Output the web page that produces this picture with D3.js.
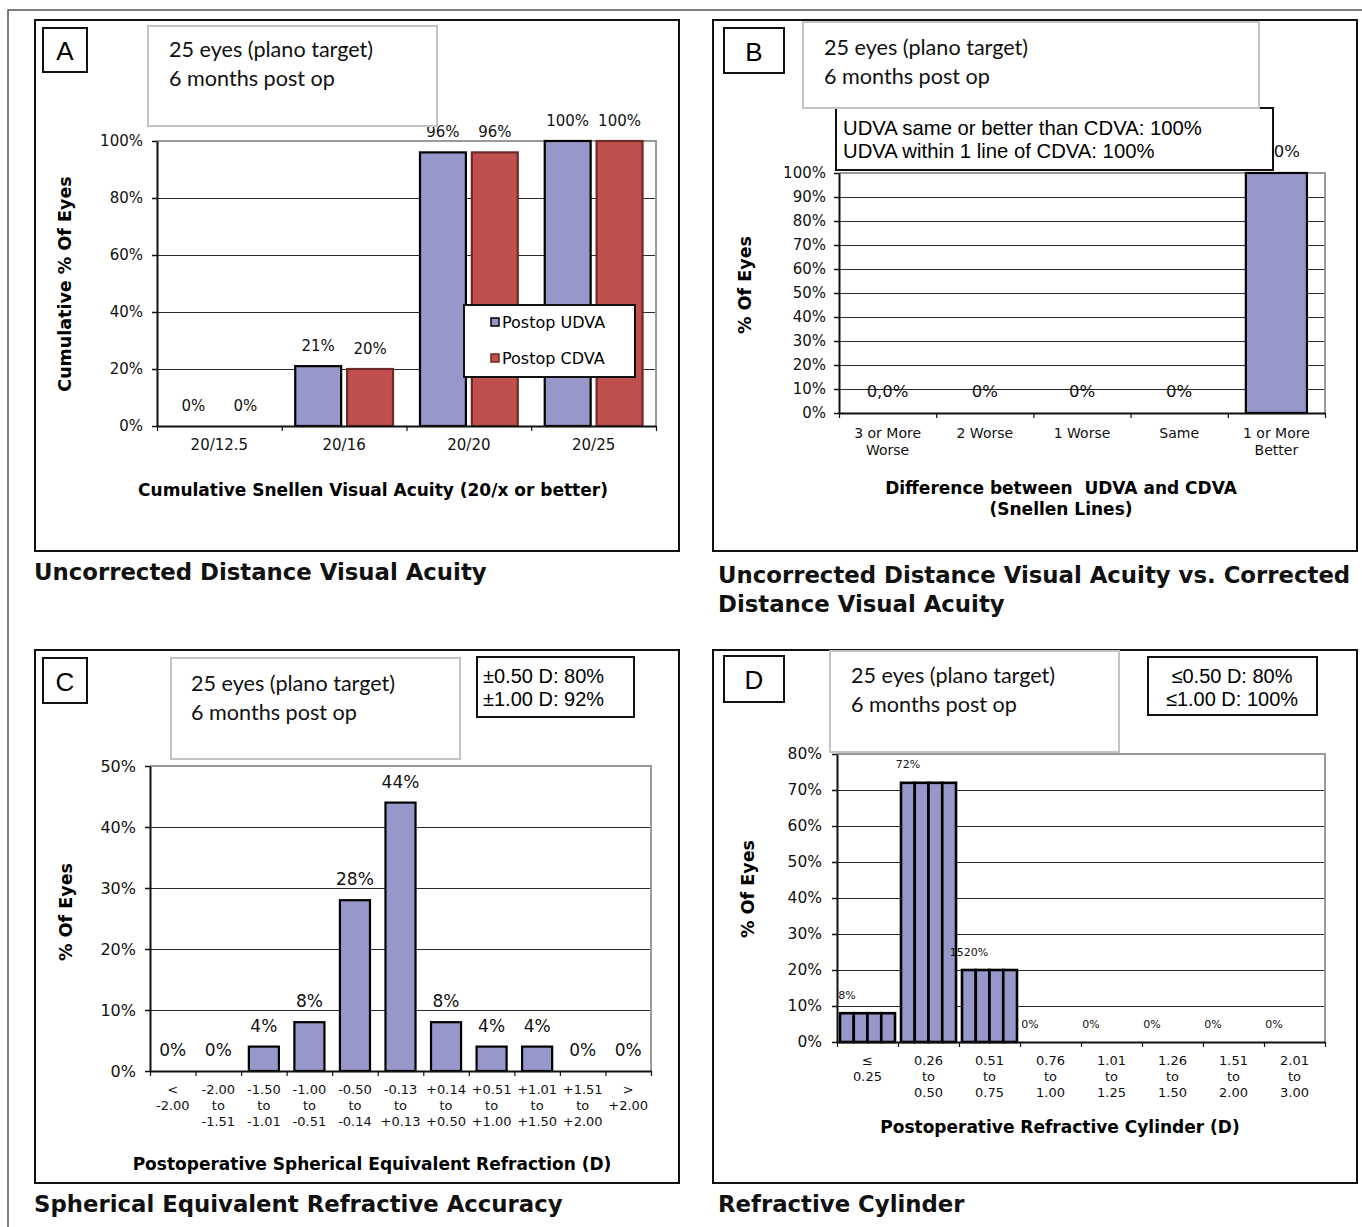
<!DOCTYPE html>
<html><head><meta charset="utf-8">
<script src="https://cdn.jsdelivr.net/npm/d3@7"></script>
<style>body{margin:0;background:#fff} svg{display:block}</style>
</head><body>
<svg id="c" width="1362" height="1227"></svg>
<script>
// ---------- DATA ----------
const noteLines = ["25 eyes (plano target)", "6 months post op"];

const aCategories = ["20/12.5", "20/16", "20/20", "20/25"];
const aUDVA = [0, 21, 96, 100];
const aCDVA = [0, 20, 96, 100];
const aSeriesNames = ["Postop UDVA", "Postop CDVA"];
const aTicks = [0, 20, 40, 60, 80, 100];

const bCategories = ["3 or More\nWorse", "2 Worse", "1 Worse", "Same", "1 or More\nBetter"];
const bValues = [0, 0, 0, 0, 100];
const bLabels = ["0,0%", "0%", "0%", "0%", "100%"];
const bTicks = [0, 10, 20, 30, 40, 50, 60, 70, 80, 90, 100];
const bStats = ["UDVA same or better than CDVA: 100%", "UDVA within 1 line of CDVA: 100%"];

const cCategories = ["<\n-2.00", "-2.00\nto\n-1.51", "-1.50\nto\n-1.01", "-1.00\nto\n-0.51", "-0.50\nto\n-0.14",
  "-0.13\nto\n+0.13", "+0.14\nto\n+0.50", "+0.51\nto\n+1.00", "+1.01\nto\n+1.50", "+1.51\nto\n+2.00", ">\n+2.00"];
const cValues = [0, 0, 4, 8, 28, 44, 8, 4, 4, 0, 0];
const cTicks = [0, 10, 20, 30, 40, 50];
const cStats = ["±0.50 D: 80%", "±1.00 D: 92%"];

const dCategories = ["≤\n0.25", "0.26\nto\n0.50", "0.51\nto\n0.75", "0.76\nto\n1.00", "1.01\nto\n1.25",
  "1.26\nto\n1.50", "1.51\nto\n2.00", "2.01\nto\n3.00"];
const dSeriesNames = ["S1", "S2", "S3", "S4"];
const dValues = [8, 72, 20, 0, 0, 0, 0, 0];
const dLabels = ["8%", "72%", "1520%", "0%", "0%", "0%", "0%", "0%"];
const dTicks = [0, 10, 20, 30, 40, 50, 60, 70, 80];
const dStats = ["≤0.50 D: 80%", "≤1.00 D: 100%"];

// ---------- STYLE ----------
const FONT = "'DejaVu Sans', Verdana, sans-serif";
const NOTEFONT = "Lato, 'Open Sans', sans-serif";
const ARIAL = "'Liberation Sans', Arial, sans-serif";
const PURPLE = "#9797CA", RED = "#C0504D", REDSTROKE = "#6e2a28";

const svg = d3.select("#c");
svg.append("path").attr("d", "M8,1227 V10 H1362").attr("fill", "none").attr("stroke", "#555").attr("stroke-width", 1.5);

function rect(g, r, stroke, sw, fill) {
  return g.append("rect").attr("x", r[0]).attr("y", r[1]).attr("width", r[2]).attr("height", r[3])
    .attr("fill", fill || "none").attr("stroke", stroke).attr("stroke-width", sw);
}

function drawPanel(o) {
  const g = svg.append("g");
  rect(g, o.frame, "#111", 2);
  const [px, py, pw, ph] = o.plot;
  const n = o.categories.length;
  const x = d3.scaleBand().domain(d3.range(n)).range([px, px + pw]);
  const xb = d3.scaleLinear().domain([0, n]).range([px, px + pw]);
  const y = d3.scaleLinear().domain([0, o.ymax]).range([py + ph, py]);
  const inner = d3.scaleBand().domain(o.series.map(s => s.name)).range([0, x.bandwidth()])
    .paddingInner(o.padIn).paddingOuter(o.padOut);

  // gridlines
  g.append("g").selectAll("line").data(o.ticks.filter(t => t > 0)).join("line")
    .attr("x1", px).attr("x2", px + pw)
    .attr("y1", d => Math.round(y(d)) + 0.5).attr("y2", d => Math.round(y(d)) + 0.5)
    .attr("stroke", "#2a2a2a").attr("stroke-width", 1.1);
  // plot border (top/right)
  g.append("path").attr("d", `M${px},${py} H${px + pw} V${py + ph}`)
    .attr("fill", "none").attr("stroke", "#9a9a9a").attr("stroke-width", 2);

  // bars
  o.series.forEach(s => {
    g.append("g").selectAll("rect").data(s.values).join("rect")
      .attr("x", (d, i) => x(i) + inner(s.name)).attr("width", inner.bandwidth())
      .attr("y", d => y(d)).attr("height", d => y(0) - y(d))
      .attr("fill", s.fill).attr("stroke", s.stroke).attr("stroke-width", o.barStroke)
      .attr("display", d => d > 0 ? null : "none");
  });

  // y axis
  const ya = g.append("g").attr("transform", `translate(${px},0)`)
    .call(d3.axisLeft(y).tickValues(o.ticks).tickFormat(d => d + "%").tickSize(5).tickSizeOuter(0).tickPadding(o.yPad));
  ya.selectAll("text").attr("font-family", FONT).attr("font-size", o.yTickSize).attr("fill", "#111");
  ya.selectAll("line").attr("stroke", "#111").attr("stroke-width", 1.5);
  ya.select(".domain").attr("stroke", "#111").attr("stroke-width", 2);

  // x axis boundary ticks
  const xa = g.append("g").attr("transform", `translate(0,${py + ph})`)
    .call(d3.axisBottom(xb).tickValues(d3.range(n + 1)).tickFormat("").tickSize(5).tickSizeOuter(0));
  xa.selectAll("line").attr("stroke", "#111").attr("stroke-width", 1.2);
  xa.select(".domain").attr("stroke", "#111").attr("stroke-width", 2);

  // x labels
  const xl = g.append("g").attr("transform", `translate(0,${py + ph})`)
    .call(d3.axisBottom(x).tickFormat(() => "").tickSize(0));
  xl.select(".domain").remove();
  xl.selectAll(".tick").each(function (i) {
    const t = d3.select(this).select("text").attr("dy", null).attr("y", null)
      .attr("font-family", FONT).attr("font-size", o.xTickSize).attr("fill", "#111")
      .attr("dominant-baseline", "central");
    o.categories[i].split("\n").forEach((ln, k) =>
      t.append("tspan").attr("x", 0).attr("y", o.xLabelY + k * o.xLineH).text(ln));
  });

  // data labels
  o.series.forEach(s => {
    if (!s.labels) return;
    g.append("g").selectAll("text").data(s.values).join("text")
      .attr("x", (d, i) => x(i) + inner(s.name) + inner.bandwidth() / 2 + (o.labelDx || 0))
      .attr("y", d => y(d) - o.labelGap)
      .attr("text-anchor", "middle").attr("dominant-baseline", "central")
      .attr("font-family", FONT).attr("font-size", o.labelSize).attr("fill", "#111")
      .text((d, i) => s.labels[i]);
  });

  // axis titles
  const yt = o.yTitle;
  g.append("text").attr("transform", `translate(${yt.x},${yt.y}) rotate(-90)`)
    .attr("text-anchor", "middle").attr("dominant-baseline", "central")
    .attr("font-family", FONT).attr("font-weight", "bold").attr("font-size", yt.size).text(yt.text);
  o.xTitle.lines.forEach((ln, k) => g.append("text")
    .attr("x", o.xTitle.x).attr("y", o.xTitle.y + k * o.xTitle.lh)
    .attr("text-anchor", "middle").attr("dominant-baseline", "central").attr("xml:space", "preserve")
    .attr("font-family", FONT).attr("font-weight", "bold").attr("font-size", o.xTitle.size).text(ln));

  if (o.extra) o.extra(g);

  // stats box
  if (o.stats) {
    const st = o.stats;
    rect(g, st.box, "#111", 2, "#fff");
    st.lines.forEach((ln, k) => g.append("text")
      .attr("x", st.x).attr("y", st.y + k * st.lh).attr("text-anchor", st.anchor || "start")
      .attr("dominant-baseline", "central").attr("font-family", ARIAL).attr("font-size", st.size).text(ln));
  }
  // note box
  rect(g, o.note.box, "#c4c4c4", 2, "#fff");
  noteLines.forEach((ln, k) => g.append("text")
    .attr("x", o.note.x).attr("y", o.note.y + k * 29).attr("dominant-baseline", "central")
    .attr("font-family", NOTEFONT).attr("font-size", 21.6).attr("fill", "#111").text(ln));
  // letter box
  rect(g, o.letter.box, "#111", 2, "#fff");
  g.append("text").attr("x", o.letter.box[0] + o.letter.box[2] / 2).attr("y", o.letter.box[1] + o.letter.box[3] / 2 + 1)
    .attr("text-anchor", "middle").attr("dominant-baseline", "central")
    .attr("font-family", ARIAL).attr("font-size", 26).text(o.letter.text);
  // caption
  o.caption.lines.forEach((ln, k) => g.append("text")
    .attr("x", o.caption.x).attr("y", o.caption.y + k * 29).attr("dominant-baseline", "central")
    .attr("font-family", FONT).attr("font-weight", "bold").attr("font-size", 22.8).attr("fill", "#111").text(ln));
}

// ---------- PANEL A ----------
drawPanel({
  frame: [35, 20, 644, 531], plot: [157, 141, 499, 285], ymax: 100, ticks: aTicks,
  categories: aCategories, padIn: 0.115, padOut: 0.26, barStroke: 2.2,
  series: [
    { name: aSeriesNames[0], values: aUDVA, fill: PURPLE, stroke: "#000", labels: aUDVA.map(v => v + "%") },
    { name: aSeriesNames[1], values: aCDVA, fill: RED, stroke: REDSTROKE, labels: aCDVA.map(v => v + "%") }
  ],
  yTickSize: 15, yPad: 9, xTickSize: 15, xLabelY: 19, xLineH: 16, labelSize: 15, labelGap: 20,
  yTitle: { x: 65, y: 284, size: 17.5, text: "Cumulative % Of Eyes" },
  xTitle: { x: 373, y: 490, lh: 21, size: 17, lines: ["Cumulative Snellen Visual Acuity (20/x or better)"] },
  extra: g => {
    rect(g, [464, 305, 171, 72], "#111", 2, "#fff");
    const fills = [[PURPLE, "#000"], [RED, REDSTROKE]];
    aSeriesNames.forEach((nm, k) => {
      const cy = 322 + k * 36;
      g.append("rect").attr("x", 491).attr("y", cy - 4).attr("width", 8).attr("height", 8)
        .attr("fill", fills[k][0]).attr("stroke", fills[k][1]).attr("stroke-width", 1.5);
      g.append("text").attr("x", 502).attr("y", cy).attr("dominant-baseline", "central")
        .attr("font-family", FONT).attr("font-size", 16).text(nm);
    });
  },
  note: { box: [148, 26, 289, 100], x: 169, y: 49 },
  letter: { box: [43, 28, 44, 44], text: "A" },
  caption: { x: 34, y: 572, lines: ["Uncorrected Distance Visual Acuity"] }
});

// ---------- PANEL B ----------
drawPanel({
  frame: [713, 20, 644, 531], plot: [839, 173, 486, 240], ymax: 100, ticks: bTicks,
  categories: bCategories, padIn: 0.228, padOut: 0.228, barStroke: 2.2,
  series: [{ name: "B", values: bValues, fill: PURPLE, stroke: "#000", labels: bLabels }],
  yTickSize: 15, yPad: 8, xTickSize: 14, xLabelY: 20, xLineH: 17, labelSize: 16.5, labelGap: 22,
  yTitle: { x: 745, y: 285, size: 17.5, text: "% Of Eyes" },
  xTitle: { x: 1061, y: 488, lh: 21, size: 17, lines: ["Difference between  UDVA and CDVA", "(Snellen Lines)"] },
  stats: { box: [836, 108, 437, 62], x: 843, y: 128, lh: 23, size: 20.3, lines: bStats },
  note: { box: [803, 22, 456, 86], x: 824, y: 47 },
  letter: { box: [724, 28, 60, 45], text: "B" },
  caption: { x: 718, y: 575, lines: ["Uncorrected Distance Visual Acuity vs. Corrected", "Distance Visual Acuity"] }
});

// ---------- PANEL C ----------
drawPanel({
  frame: [35, 650, 644, 533], plot: [150, 766, 501, 305], ymax: 50, ticks: cTicks,
  categories: cCategories, padIn: 0.205, padOut: 0.205, barStroke: 2.2,
  series: [{ name: "C", values: cValues, fill: PURPLE, stroke: "#000", labels: cValues.map(v => v + "%") }],
  yTickSize: 16, yPad: 9, xTickSize: 13, xLabelY: 18, xLineH: 16, labelSize: 17, labelGap: 21,
  yTitle: { x: 66, y: 912, size: 17.5, text: "% Of Eyes" },
  xTitle: { x: 372, y: 1164, lh: 21, size: 17, lines: ["Postoperative Spherical Equivalent Refraction (D)"] },
  stats: { box: [477, 657, 157, 60], x: 483, y: 676, lh: 23, size: 20, lines: cStats },
  note: { box: [171, 658, 289, 101], x: 191, y: 683 },
  letter: { box: [43, 658, 44, 45], text: "C" },
  caption: { x: 34, y: 1204, lines: ["Spherical Equivalent Refractive Accuracy"] }
});

// ---------- PANEL D ----------
drawPanel({
  frame: [713, 650, 644, 533], plot: [837, 754, 488, 288], ymax: 80, ticks: dTicks,
  categories: dCategories, padIn: 0, padOut: 0.218, barStroke: 2.6,
  series: dSeriesNames.map((nm, k) => ({ name: nm, values: dValues, fill: PURPLE, stroke: "#000", labels: k === 0 ? dLabels : null })),
  yTickSize: 15.5, yPad: 10, xTickSize: 13, xLabelY: 18, xLineH: 16, labelSize: 11, labelGap: 18,
  yTitle: { x: 748, y: 889, size: 17.5, text: "% Of Eyes" },
  xTitle: { x: 1060, y: 1127, lh: 21, size: 17, lines: ["Postoperative Refractive Cylinder (D)"] },
  stats: { box: [1148, 657, 169, 58], x: 1232, y: 676, lh: 23, size: 20, anchor: "middle", lines: dStats },
  note: { box: [830, 651, 289, 101], x: 851, y: 675 },
  letter: { box: [724, 656, 60, 46], text: "D" },
  caption: { x: 718, y: 1204, lines: ["Refractive Cylinder"] }
});
</script>
</body></html>
